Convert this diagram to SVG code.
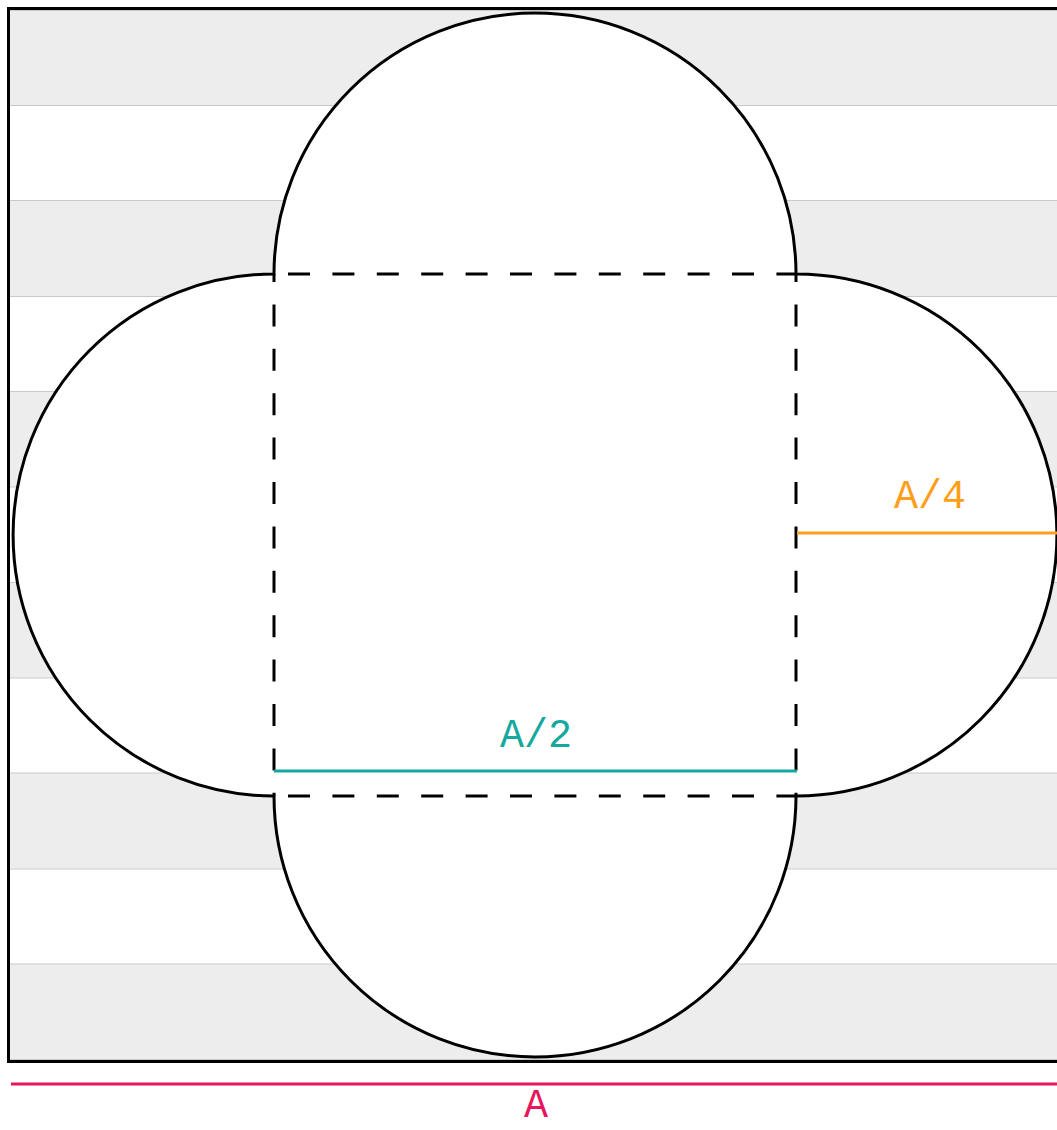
<svg xmlns="http://www.w3.org/2000/svg" width="1057" height="1130" viewBox="0 0 1057 1130">
  <style>
    .band { fill: #ededed; }
    .sep { stroke: #c9c9c9; stroke-width: 1; }
    .outline { fill: #ffffff; stroke: #000000; stroke-width: 3; }
    .dash { fill: none; stroke: #000000; stroke-width: 3; stroke-dasharray: 22 22.4; }
    .lbl { font-family: "Liberation Mono", "Courier New", monospace; font-size: 40px; text-anchor: middle; }
  </style>
  <rect x="0" y="0" width="1057" height="1130" fill="#ffffff"/>
  <g id="background">
    <rect class="band" x="10" y="10" width="1047" height="95.4"/>
    <rect class="band" x="10" y="200.8" width="1047" height="95.4"/>
    <rect class="band" x="10" y="391.6" width="1047" height="95.4"/>
    <rect class="band" x="10" y="582.4" width="1047" height="95.4"/>
    <rect class="band" x="10" y="773.2" width="1047" height="95.4"/>
    <rect class="band" x="10" y="964" width="1047" height="95.4"/>
    <g class="sep">
      <line x1="10" y1="10.5" x2="1057" y2="10.5"/>
      <line x1="10" y1="105.5" x2="1057" y2="105.5"/>
      <line x1="10" y1="200.5" x2="1057" y2="200.5"/>
      <line x1="10" y1="296.5" x2="1057" y2="296.5"/>
      <line x1="10" y1="391.5" x2="1057" y2="391.5"/>
      <line x1="10" y1="487" x2="1057" y2="487"/>
      <line x1="10" y1="582.5" x2="1057" y2="582.5"/>
      <line x1="10" y1="678" x2="1057" y2="678"/>
      <line x1="10" y1="773" x2="1057" y2="773"/>
      <line x1="10" y1="869" x2="1057" y2="869"/>
      <line x1="10" y1="964" x2="1057" y2="964"/>
      <line x1="10" y1="1059.5" x2="1057" y2="1059.5"/>
    </g>
    <rect x="8.5" y="8.5" width="1053" height="1053" fill="none" stroke="#000000" stroke-width="3"/>
  </g>
  <g id="flower">
    <path class="outline" d="M274,274 A261,261 0 0 1 796,274 A261,261 0 0 1 796,796 A261,261 0 0 1 274,796 A261,261 0 0 1 274,274 Z"/>
  </g>
  <g id="square">
    <line class="dash" x1="274" y1="274" x2="796" y2="274" stroke-dashoffset="30.4"/>
    <line class="dash" x1="796" y1="274" x2="796" y2="796" stroke-dashoffset="14"/>
    <line class="dash" x1="274" y1="796" x2="796" y2="796" stroke-dashoffset="30.4"/>
    <line class="dash" x1="274" y1="274" x2="274" y2="796" stroke-dashoffset="14"/>
  </g>
  <g id="connectors">
    <line x1="274" y1="771" x2="797" y2="771" stroke="#14a89e" stroke-width="3"/>
    <line x1="797" y1="533" x2="1057" y2="533" stroke="#ff9e1a" stroke-width="3"/>
    <line x1="11" y1="1084" x2="1057" y2="1084" stroke="#e8175d" stroke-width="3"/>
  </g>
  <g id="label-a2">
    <text class="lbl" x="536" y="747" fill="#14a89e">A/2</text>
  </g>
  <g id="label-a4">
    <text class="lbl" x="930" y="508" fill="#ff9e1a">A/4</text>
  </g>
  <g id="label-a">
    <text class="lbl" x="536" y="1117" fill="#e8175d">A</text>
  </g>
</svg>
